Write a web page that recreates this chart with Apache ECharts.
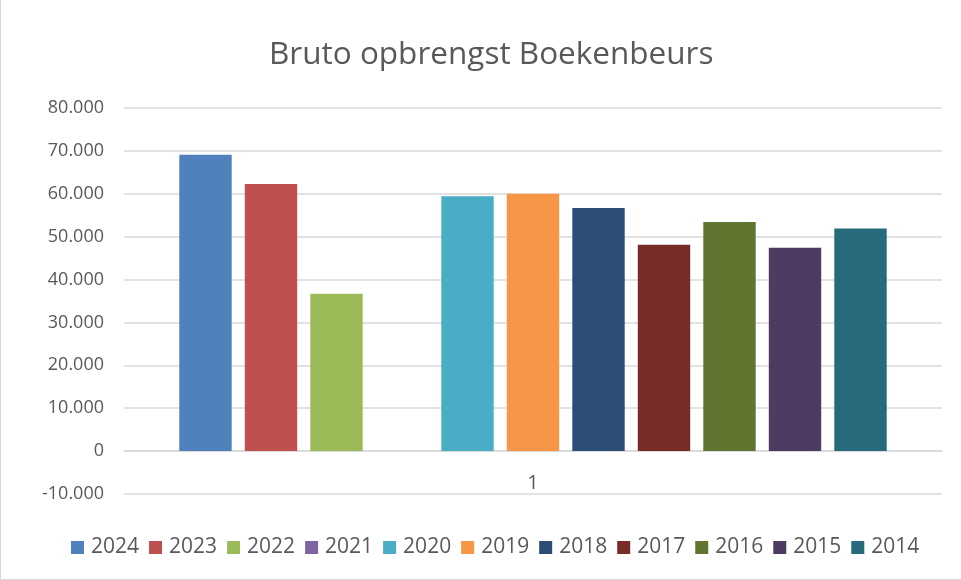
<!DOCTYPE html>
<html>
<head>
<meta charset="utf-8">
<script src="https://cdn.jsdelivr.net/npm/echarts@6/dist/echarts.min.js"></script>
<style>
  html, body { margin: 0; padding: 0; background: #fff; }
  #chart { width: 961px; height: 580px; box-sizing: border-box; border-left: 1px solid #d9d9d9; border-bottom: 1px solid #d9d9d9; }
</style>
</head>
<body>
<div id="chart"></div>
<script>
// categorie-as heeft maar één waarde
const categories = ["1"];
const years = ["2024", "2023", "2022", "2021", "2020", "2019", "2018", "2017", "2016", "2015", "2014"];
const values = [69100, 62300, 36700, 0, 59400, 60000, 56700, 48100, 53400, 47400, 51900];
const colors = ["#4F81BD", "#C0504D", "#9BBB59", "#8064A2", "#4BACC6", "#F79646",
  "#2C4D75", "#772C2A", "#5F7530", "#4D3B62", "#276A7C"];

const textColor = "#595959";
const font = "Open Sans";

// 80000 -> "80.000"
const formatNl = (v) => {
  const s = Math.abs(v).toString().replace(/\B(?=(\d{3})+(?!\d))/g, ".");
  return (v < 0 ? "-" : "") + s;
};

const myChart = echarts.init(document.getElementById("chart"));
const option = {
  animation: false,
  color: colors,
  title: {
    text: "Bruto opbrengst Boekenbeurs",
    left: 263,
    top: 34,
    textStyle: { color: textColor, fontFamily: font, fontSize: 31.5, fontWeight: "normal" },
  },
  legend: {
    data: years,
    top: 532,
    left: 65,
    itemWidth: 13,
    itemHeight: 13,
    itemGap: 10,
    icon: "rect",
    textStyle: { color: textColor, fontFamily: font, fontSize: 21, padding: [0, 0, 0, 2] },
  },
  grid: {
    left: 123,
    right: 19,
    top: 108,
    bottom: 85,
  },
  xAxis: {
    type: "category",
    data: categories,
    offset: -43, // as ligt op de nul-lijn
    axisLine: { lineStyle: { color: "#d9d9d9", width: 1.5 } },
    axisTick: { show: false },
    axisLabel: { color: textColor, fontFamily: font, fontSize: 20, margin: 22 },
  },
  yAxis: {
    type: "value",
    min: -10000,
    max: 80000,
    interval: 10000,
    axisLine: { show: false },
    axisTick: { show: false },
    axisLabel: {
      color: textColor,
      fontFamily: font,
      fontSize: 18,
      margin: 20,
      formatter: formatNl,
    },
    splitLine: { lineStyle: { color: "#d9d9d9", width: 1.5 } },
  },
  series: years.map((y, i) => ({
    name: y,
    type: "bar",
    barWidth: 52.4,
    barGap: "25%",
    data: [values[i]],
  })),
};
option && myChart.setOption(option);
</script>
</body>
</html>
